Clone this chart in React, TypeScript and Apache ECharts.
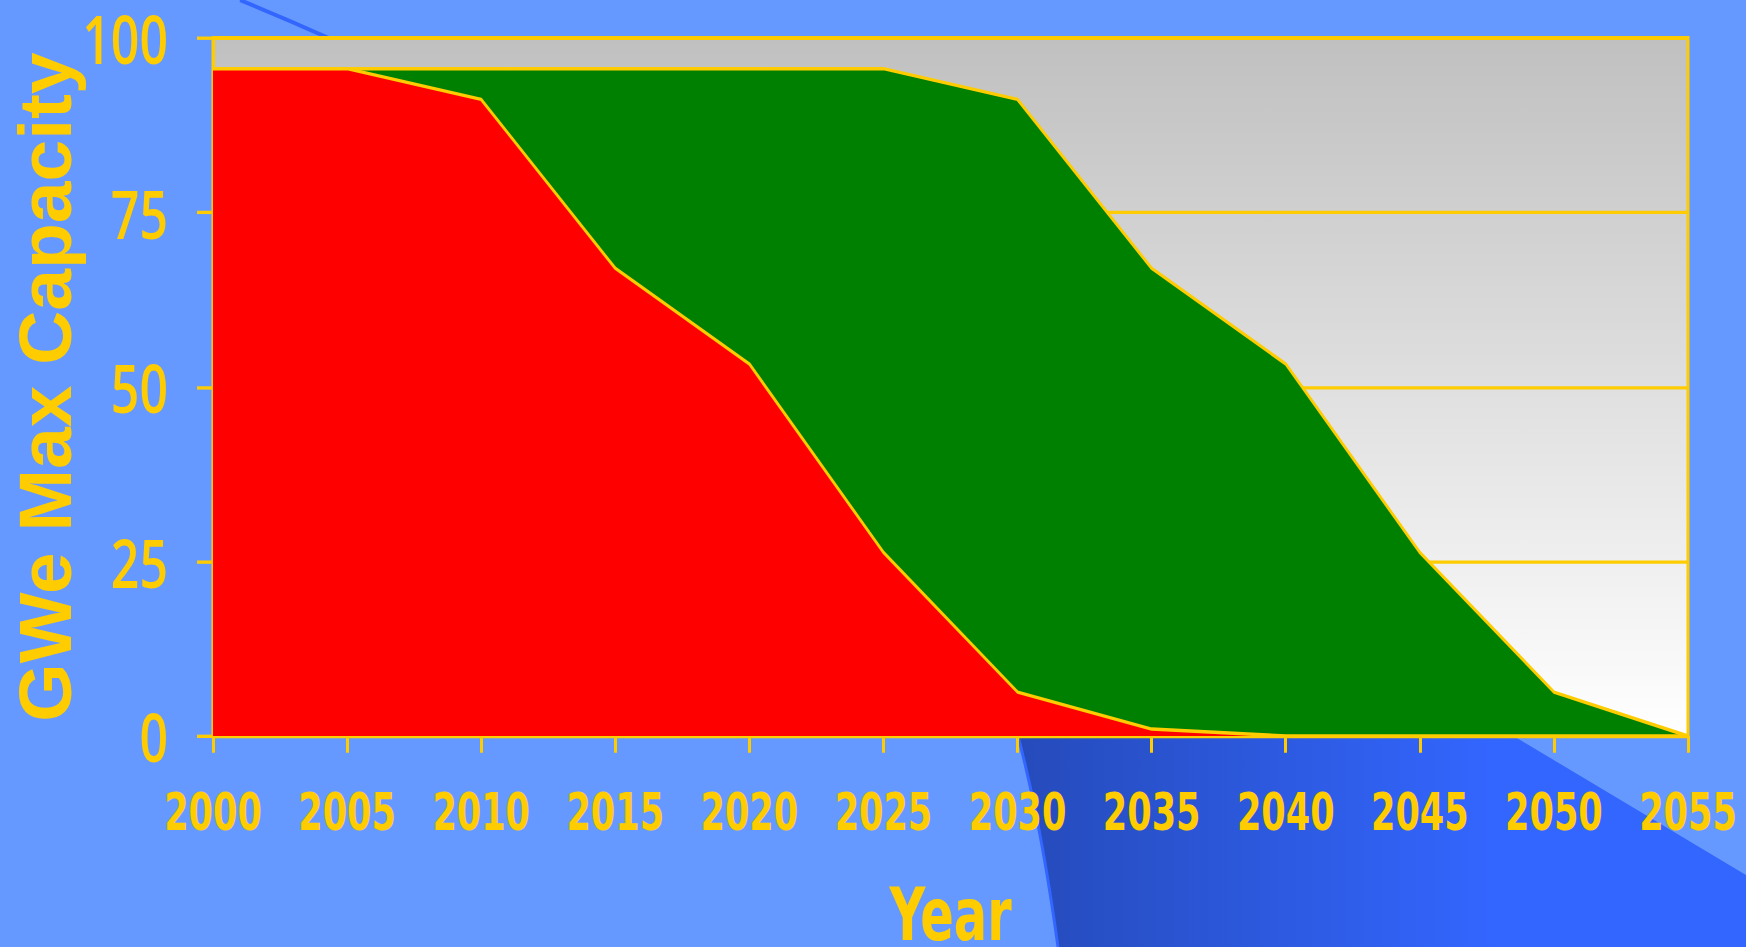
import React, { useEffect, useRef } from "react";
import * as echarts from "echarts";

const years = ["2000", "2005", "2010", "2015", "2020", "2025", "2030", "2035", "2040", "2045", "2050", "2055"];
const redValues = [95.6, 95.6, 91.2, 67.0, 53.3, 26.3, 6.3, 1.0, 0, 0, 0, 0];
const greenValues = [0, 0, 4.4, 28.6, 42.3, 69.3, 84.9, 66.0, 53.3, 26.3, 6.3, 0];
const yMin = 0;
const yMax = 100;
const yInterval = 25;
const yTitle = "GWe Max Capacity";

const YELLOW = "#ffcc00";
const COND = '"DejaVu Sans Condensed", "DejaVu Sans", sans-serif';

// The original picture is stretched vertically; the chart is laid out in
// unstretched coordinates and the container is scaled by K.
const W = 1746;
const H = 947;
const K = 1.34;
const sy = (y: number) => y / K;

// decorative background curve (cubic bezier), in page pixels
const P0 = [240, 0];
const P1 = [894, 268];
const P2 = [1004, 557];
const P3 = [1058, 947];
function bez(t: number): number[] {
  const u = 1 - t;
  const a = u * u * u, b = 3 * u * u * t, c = 3 * u * t * t, d = t * t * t;
  return [a * P0[0] + b * P1[0] + c * P2[0] + d * P3[0], a * P0[1] + b * P1[1] + c * P2[1] + d * P3[1]];
}

export default function App() {
  const ref = useRef<HTMLDivElement>(null);
  useEffect(() => {
    if (!ref.current) return;
    const chart = echarts.init(ref.current, undefined, { renderer: "svg" });

    const curvePts: number[][] = [];
    for (let i = 0; i <= 20; i++) curvePts.push(bez(0.55 + (0.45 * i) / 20));
    const firstY = curvePts[0][1];
    const polyPts = [
      ...curvePts,
      [1746, 947],
      [1746, 875],
      [1517, 738],
      [1517 + (firstY - 738) / 0.6, firstY],
    ].map((p) => [p[0], sy(p[1])]);

    chart.setOption({
      animation: false,
      backgroundColor: "#6699ff",
      graphic: [
        {
          type: "polygon",
          z: -10,
          silent: true,
          shape: { points: polyPts },
          style: {
            fill: new echarts.graphic.LinearGradient(0, 0, 1, 0, [
              { offset: 0, color: "#2246b0" },
              { offset: 0.08, color: "#2448b4" },
              { offset: 0.7, color: "#3366ff" },
              { offset: 1, color: "#3366ff" },
            ]),
          },
        },
        {
          type: "bezierCurve",
          z: -9,
          silent: true,
          shape: {
            x1: P0[0], y1: sy(P0[1]), cpx1: P1[0], cpy1: sy(P1[1]),
            cpx2: P2[0], cpy2: sy(P2[1]), x2: P3[0], y2: sy(P3[1]),
          },
          style: { stroke: "#3366ff", lineWidth: 3, fill: null },
        },
        {
          type: "text",
          z: 10,
          silent: true,
          x: 45,
          y: sy(387),
          rotation: Math.PI / 2,
          scaleX: 1 / K,
          style: {
            text: yTitle,
            fill: YELLOW,
            fontSize: 75,
            fontWeight: "bold",
            fontFamily: '"Liberation Sans", Arial, sans-serif',
            align: "center",
            verticalAlign: "middle",
          },
        },
      ],
      grid: {
        left: 213,
        top: sy(38),
        width: 1475,
        height: sy(698),
        outerBoundsMode: "none",
        containLabel: false,
        show: true,
        borderColor: YELLOW,
        borderWidth: 3,
        backgroundColor: new echarts.graphic.LinearGradient(0, 0, 0, 1, [
          { offset: 0, color: "#c0c0c0" },
          { offset: 1, color: "#ffffff" },
        ]),
      },
      xAxis: {
        type: "category",
        data: years,
        boundaryGap: false,
        name: "Year",
        nameLocation: "middle",
        nameGap: 106,
        nameTextStyle: { color: YELLOW, fontSize: 55, fontWeight: "bold", fontFamily: COND },
        axisLine: { show: true, lineStyle: { color: YELLOW, width: 3 } },
        axisTick: { show: true, length: 12.5, alignWithLabel: true, lineStyle: { color: YELLOW, width: 3 } },
        axisLabel: {
          color: YELLOW,
          fontSize: 39,
          fontWeight: "bold",
          fontFamily: COND,
          margin: 37,
          interval: 0,
        },
        splitLine: { show: false },
      },
      yAxis: {
        type: "value",
        min: yMin,
        max: yMax,
        interval: yInterval,
        axisLine: { show: true, lineStyle: { color: YELLOW, width: 3 } },
        axisTick: { show: true, length: 16, lineStyle: { color: YELLOW, width: 2.5 } },
        axisLabel: {
          color: YELLOW,
          fontSize: 50,
          fontWeight: 600,
          fontFamily: '"Open Sans", "DejaVu Sans Condensed", sans-serif',
          margin: 45,
        },
        splitLine: { show: true, lineStyle: { color: YELLOW, width: 2.5 } },
      },
      series: [
        {
          name: "Red",
          type: "line",
          stack: "total",
          data: redValues,
          symbol: "none",
          lineStyle: { color: YELLOW, width: 2.5 },
          areaStyle: { color: "#ff0000", opacity: 1 },
          z: 3,
        },
        {
          name: "Green",
          type: "line",
          stack: "total",
          data: greenValues,
          symbol: "none",
          lineStyle: { color: YELLOW, width: 2.5 },
          areaStyle: { color: "#008000", opacity: 1 },
          z: 2,
        },
      ],
    });
    return () => chart.dispose();
  }, []);
  return (
    <div
      ref={ref}
      style={{
        position: "fixed",
        left: 0,
        top: 0,
        width: W + "px",
        height: H / K + "px",
        transform: `scaleY(${K})`,
        transformOrigin: "0 0",
      }}
    />
  );
}
